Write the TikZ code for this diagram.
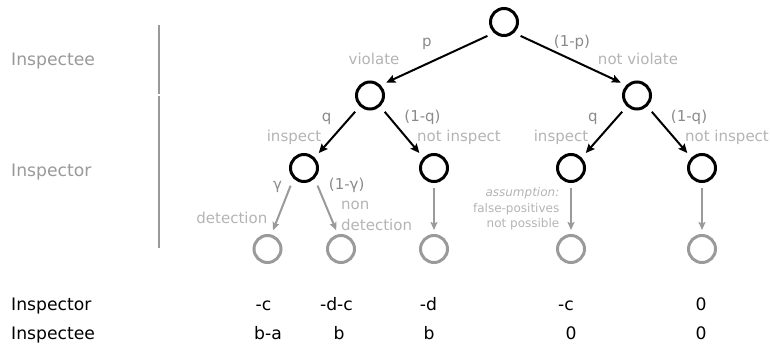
\documentclass[tikz,border=0pt]{standalone}
\usepackage{fontspec}
\setmainfont{DejaVu Sans}
\usetikzlibrary{arrows.meta}
\definecolor{dk}{HTML}{8A8A8A}
\definecolor{lt}{HTML}{B4B4B4}
\definecolor{side}{HTML}{999999}
\definecolor{gr}{HTML}{9A9A9A}
\begin{document}
\begin{tikzpicture}[x=1pt,y=-1pt,
 dec/.style={circle,draw=black,line width=3pt,minimum size=27pt,inner sep=0pt},
 leaf/.style={circle,draw=gr,line width=3pt,minimum size=27pt,inner sep=0pt},
 prob/.style={text=dk,font=\fontsize{15}{18}\selectfont,inner sep=0pt,anchor=base},
 act/.style={text=lt,font=\fontsize{15}{18}\selectfont,inner sep=0pt,anchor=base},
 role/.style={text=side,font=\fontsize{17.2}{20}\selectfont,inner sep=0pt,anchor=base west},
 pay/.style={text=black,font=\fontsize{17.2}{20}\selectfont,inner sep=0pt,anchor=base},
 note/.style={text=lt,font=\fontsize{12}{14}\selectfont,inner sep=0pt,anchor=base east},
 barr/.style={draw=black,line width=2pt,-{Stealth[length=9pt,width=8pt,inset=1.5pt]}},
 garr/.style={draw=gr,line width=2pt,-{Stealth[length=8pt,width=7pt,inset=1.5pt]}},
 sepline/.style={draw=side,line width=2pt}
]
\useasboundingbox (0,0) rectangle (770,345);

% separators
\coordinate (s1a) at (158.5,25);
\coordinate (s1b) at (158.5,94);
\coordinate (s2a) at (158.5,96);
\coordinate (s2b) at (158.5,247.7);
\draw[sepline] (s1a) -- (s1b);
\draw[sepline] (s2a) -- (s2b);

% decision nodes
\node[dec] (root) at (504,22) {};
\node[dec] (v) at (370,95.5) {};
\node[dec] (nv) at (637,95.5) {};
\node[dec] (vi) at (304,168) {};
\node[dec] (vn) at (434,168) {};
\node[dec] (nvi) at (571,168) {};
\node[dec] (nvn) at (702,168) {};

% leaves
\node[leaf] (l1) at (267.5,249) {};
\node[leaf] (l2) at (341,249) {};
\node[leaf] (l3) at (434,249) {};
\node[leaf] (l4) at (571,249) {};
\node[leaf] (l5) at (702,249) {};

% black arrows
\draw[barr,shorten <=7pt,shorten >=6pt] (root.-133) -- (v.44);
\draw[barr,shorten <=7pt,shorten >=6pt] (root.-47) -- (nv.136);
\draw[barr,shorten <=7pt,shorten >=6pt] (v.-133) -- (vi.44);
\draw[barr,shorten <=7pt,shorten >=6pt] (v.-47) -- (vn.136);
\draw[barr,shorten <=7pt,shorten >=6pt] (nv.-133) -- (nvi.44);
\draw[barr,shorten <=7pt,shorten >=6pt] (nv.-47) -- (nvn.136);

% gray arrows
\draw[garr,shorten <=7.6pt,shorten >=4.6pt] (vi.-135) -- (l1.75);
\draw[garr,shorten <=7.6pt,shorten >=4.4pt] (vi.-45) -- (l2.102);
\draw[garr,shorten <=4.6pt,shorten >=4pt] (vn.south) -- (l3.north);
\draw[garr,shorten <=4.6pt,shorten >=4pt] (nvi.south) -- (l4.north);
\draw[garr,shorten <=4.6pt,shorten >=4pt] (nvn.south) -- (l5.north);

% probability labels
\node[prob] (tp) at (427,47) {p};
\node[prob] (t1p) at (572,47) {(1-p)};
\node[prob] (tq1) at (326.7,121) {q};
\node[prob] (t1q1) at (422.5,121) {(1-q)};
\node[prob] (tq2) at (593,121) {q};
\node[prob] (t1q2) at (689,121) {(1-q)};
\node[prob] (tg) at (277.5,189) {γ};
\node[prob] (t1g) at (346.7,189) {(1-γ)};

% action labels
\node[act] (av) at (374,64) {violate};
\node[act] (anv) at (638,64) {not violate};
\node[act] (ai1) at (294,141) {inspect};
\node[act] (an1) at (459,141) {not inspect};
\node[act] (ai2) at (561,141) {inspect};
\node[act] (an2) at (727,141) {not inspect};
\node[act,anchor=base east] (adet) at (267.5,223) {detection};
\node[act,anchor=base west] (anon) at (341,209) {non};
\node[act,anchor=base west] (andet) at (341,230) {detection};

% note
\node[note] (n1) at (559.5,196) {\itshape assumption:};
\node[note] (n2) at (559.5,212) {false-positives};
\node[note] (n3) at (559.5,227.5) {not possible};

% side roles
\node[role] (r1) at (11,66) {Inspectee};
\node[role] (r2) at (11,176) {Inspector};

% payoff table
\node[pay,anchor=base west] (p1) at (11,310) {Inspector};
\node[pay,anchor=base west] (p2) at (11,339.5) {Inspectee};
\node[pay] (a1) at (263.5,310) {-c};
\node[pay] (a2) at (336.5,310) {-d-c};
\node[pay] (a3) at (428.5,310) {-d};
\node[pay] (a4) at (566,310) {-c};
\node[pay] (a5) at (701,310) {0};
\node[pay] (b1) at (268,339.5) {b-a};
\node[pay] (b2) at (339,339.5) {b};
\node[pay] (b3) at (429,339.5) {b};
\node[pay] (b4) at (571,339.5) {0};
\node[pay] (b5) at (701,339.5) {0};
\end{tikzpicture}
\end{document}
